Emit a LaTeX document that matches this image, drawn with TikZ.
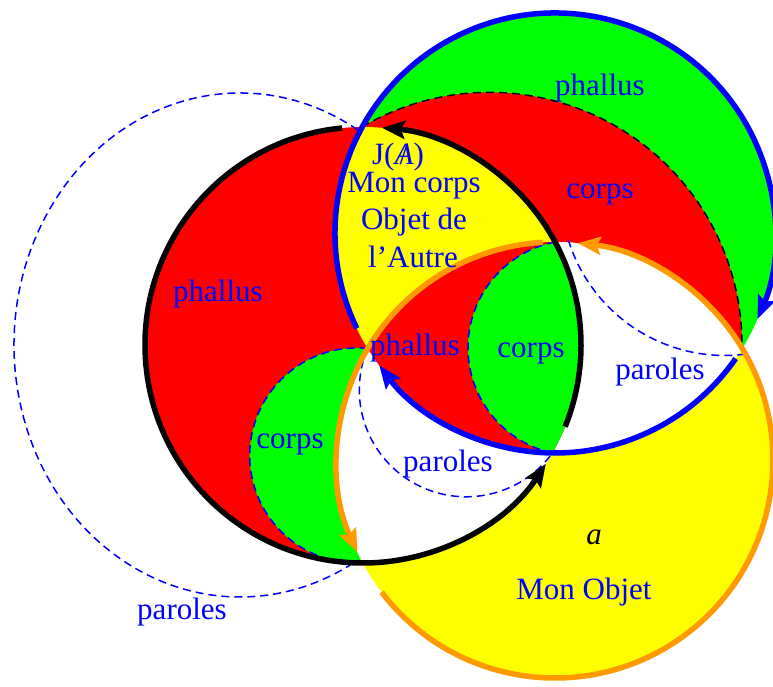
\documentclass[tikz,border=0pt]{standalone}
\usepackage{fontspec}
\setmainfont{Liberation Serif}
\usetikzlibrary{arrows.meta,calc}
\definecolor{ringorange}{RGB}{255,153,0}
\definecolor{pureyellow}{RGB}{255,255,0}
\definecolor{puregreen}{RGB}{0,255,0}
\definecolor{purered}{RGB}{255,0,0}
\definecolor{pureblue}{RGB}{0,0,255}
\tikzset{
  ring/.style={line width=5.5pt, -{Stealth[length=23pt,width=18pt,inset=4pt]}},
  blackring/.style={ring, draw=black},
  bluering/.style={ring, draw=pureblue},
  orangering/.style={ring, draw=ringorange},
  paroledash/.style={draw=pureblue, line width=1.5pt, dash pattern=on 8pt off 5pt},
  blackdash/.style={draw=black, line width=1.5pt, dash pattern=on 8pt off 5pt},
  lbl/.style={text=pureblue, font=\fontsize{31}{37}\selectfont, inner sep=0pt},
}
\begin{document}
\begin{tikzpicture}[x=1pt,y=1pt]
\useasboundingbox (0,0) rectangle (773,687);
\fill[white] (0,0) rectangle (773,687);
% centres
\coordinate (Kc) at (363,342);
\coordinate (Bc) at (555,454);
\coordinate (Oc) at (555,227);
\coordinate (D1c) at (489.5,342.1);
\coordinate (D2c) at (575.8,339.2);
\coordinate (D3c) at (357.3,231.5);
\coordinate (D4c) at (240,342);
\coordinate (D5c) at (466.2,297.1);
\coordinate (D6c) at (725,495.5);
% fills
\fill[purered] (Kc) circle[radius=218];
\begin{scope}
  \clip (Kc) circle[radius=218];
  \fill[puregreen] (D3c) circle[radius=107.6];
\end{scope}
\fill[puregreen] (Bc) circle[radius=220];
\begin{scope}
  \clip (Bc) circle[radius=220];
  \fill[purered] (D1c) circle[radius=252.5];
\end{scope}
\fill[pureyellow] (Oc) circle[radius=218];
\begin{scope}
  \clip (Kc) circle[radius=218];
  \fill[pureyellow] (Bc) circle[radius=220];
  \fill[white] (Oc) circle[radius=218];
\end{scope}
\begin{scope}
  \clip (Bc) circle[radius=220];
  \fill[white] (Oc) circle[radius=218];
\end{scope}
\begin{scope}
  \clip (Kc) circle[radius=218];
  \clip (Bc) circle[radius=220];
  \fill[purered] (Oc) circle[radius=218];
  \clip (Oc) circle[radius=218];
  \fill[puregreen] (D2c) circle[radius=107.8];
\end{scope}
% dashed arcs
\draw[blackdash] ($(D1c)+(120.3:252.5)$) arc[start angle=120.3, end angle=-0.8, radius=252.5];
\draw[paroledash] ($(D2c)+(101.1:107.8)$) arc[start angle=101.1, end angle=257.5, radius=107.8];
\draw[paroledash] ($(D3c)+(84.5:107.6)$) arc[start angle=84.5, end angle=273, radius=107.6];
\draw[paroledash] ($(D4c)+({226*cos(58.6)},{252*sin(58.6)})$) arc[start angle=58.6, end angle=301.5, x radius=226, y radius=252];
\draw[paroledash] ($(D5c)+(157.2:106.9)$) arc[start angle=157.2, end angle=323.8, radius=106.9];
\draw[paroledash] ($(D6c)+(197.1:164)$) arc[start angle=197.1, end angle=276.3, radius=164];
% rings
\draw[blackring] ($(Kc)+(-22:218)$) arc[start angle=-22, end angle=85, radius=218];
\draw[blackring] ($(Kc)+(95.5:218)$) arc[start angle=95.5, end angle=327, radius=218];
\draw[bluering] ($(Bc)+(205.7:220)$) arc[start angle=205.7, end angle=-23, radius=220];
\draw[bluering] ($(Bc)+(325.2:220)$) arc[start angle=325.2, end angle=217, radius=220];
\draw[orangering] ($(Oc)+(93.2:218)$) arc[start angle=93.2, end angle=205, radius=218];
\draw[orangering] ($(Oc)+(217.3:218)$) arc[start angle=217.3, end angle=444, radius=218];
% labels
\node[lbl] (tphal) at (600,599) {phallus};
\node[lbl] (tcorps) at (600,492) {corps};
\node[lbl] (tj) at (398,530) {J(\ooalign{\textit{A}\cr\hidewidth/\hidewidth\cr})};
\node[lbl] (tmon) at (414,501) {Mon corps};
\node[lbl] (tobj) at (414,465) {Objet de};
\node[lbl] (taut) at (413,430) {l’Autre};
\node[lbl] (lphal) at (218,393) {phallus};
\node[lbl] (mphal) at (415,339) {phallus};
\node[lbl] (mcorps) at (531,333) {corps};
\node[lbl] (lcorps) at (290,242) {corps};
\node[lbl] (mpar) at (448,223) {paroles};
\node[lbl] (rpar) at (660,315) {paroles};
\node[lbl] (bpar) at (182,75) {paroles};
\node[lbl, text=black] (ta) at (594,150) {\textit{a}};
\node[lbl] (tobjet) at (584,95) {Mon Objet};
\end{tikzpicture}
\end{document}
